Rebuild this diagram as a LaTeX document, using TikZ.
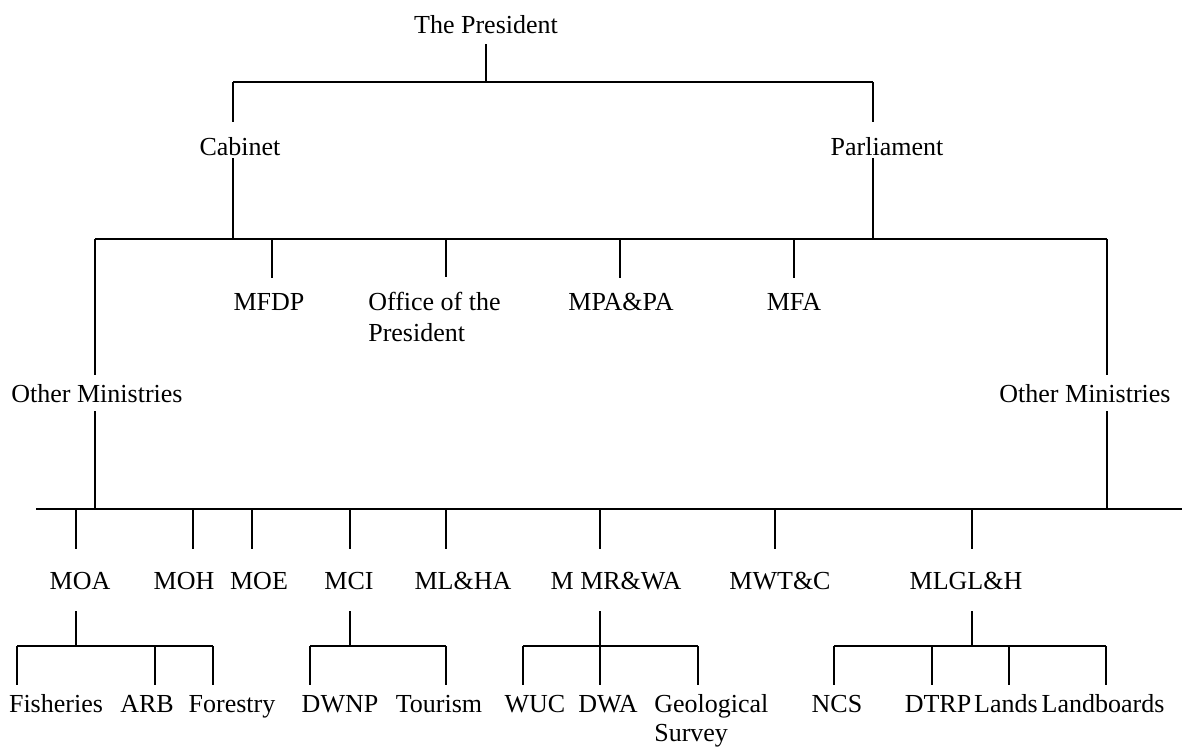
\documentclass[tikz,border=0pt]{standalone}
\usepackage{fontspec}
\setmainfont{Liberation Serif}
\begin{document}
\begin{tikzpicture}[x=0.5pt,y=-0.5pt,line width=1.3pt,
    lab/.style={font=\fontsize{13}{15.5}\selectfont,anchor=base,
      text height=9pt,text depth=0pt,inner xsep=0pt},
    twolines/.style={align=left,anchor=base west,text height=,text depth=},
    head/.style={lab,inner ysep=4.5pt},
    office/.style={lab,inner ysep=7pt},
    house/.style={lab,fill=white,text height=16pt,inner ysep=1pt,inner xsep=2pt},
    other/.style={lab,fill=white,inner ysep=4.3pt,inner xsep=2pt},
    ministry/.style={lab,inner ysep=10.5pt},
    dept/.style={lab,inner ysep=4pt}]
    \useasboundingbox (0,0) rectangle (1182,748);

    % The President
    \node[head] (pres) at (486,34) {The President};
    \coordinate (presJ) at (486,82);
    \coordinate (cabJ) at (233,82);
    \coordinate (parlJ) at (873,82);
    \draw (pres.south) -- (presJ);
    \draw (cabJ) -- (parlJ);

    % Cabinet & Parliament down to the first bar
    \coordinate (cabB) at (233,239);
    \coordinate (parlB) at (873,239);
    \coordinate (omlB) at (95,239);
    \coordinate (omrB) at (1107,239);
    \draw (cabJ) -- (cabB);
    \draw (parlJ) -- (parlB);
    \draw (omlB) -- (omrB);
    \node[house] (cab) at (240,156) {Cabinet};
    \node[house] (parl) at (887,156) {Parliament};

    % Ministries on the first bar
    \node[office] (mfdp) at (269,311) {MFDP};
    \node[office,twolines] (office) at (367,342) {Office of the\\President};
    \node[office] (mpapa) at (621,311) {MPA\&PA};
    \node[office] (mfa) at (794,311) {MFA};
    \coordinate (mfdpB) at (272,239);
    \coordinate (officeB) at (446,239);
    \coordinate (mpapaB) at (620,239);
    \coordinate (mfaB) at (794,239);
    \draw (mfdpB) -- (mfdpB |- mfdp.north);
    \draw (officeB) -- (officeB |- office.north);
    \draw (mpapaB) -- (mpapaB |- mpapa.north);
    \draw (mfaB) -- (mfaB |- mfa.north);

    % Other ministries down to the second bar
    \coordinate (omlM) at (95,509);
    \coordinate (omrM) at (1107,509);
    \coordinate (barL) at (36,509);
    \coordinate (barR) at (1182,509);
    \draw (omlB) -- (omlM);
    \draw (omrB) -- (omrM);
    \draw (barL) -- (barR);
    \node[other] (oml) at (97,402) {Other Ministries};
    \node[other] (omr) at (1085,402) {Other Ministries};

    % Ministries on the second bar
    \node[ministry] (moa) at (80,589) {MOA};
    \node[ministry] (moh) at (184,589) {MOH};
    \node[ministry] (moe) at (259,589) {MOE};
    \node[ministry] (mci) at (349,589) {MCI};
    \node[ministry] (mlha) at (463,589) {ML\&HA};
    \node[ministry] (mmrwa) at (616,589) {M MR\&WA};
    \node[ministry] (mwtc) at (780,589) {MWT\&C};
    \node[ministry] (mlglh) at (966,589) {MLGL\&H};
    \coordinate (moaB) at (76,509);
    \coordinate (mohB) at (193,509);
    \coordinate (moeB) at (252,509);
    \coordinate (mciB) at (350,509);
    \coordinate (mlhaB) at (446,509);
    \coordinate (mmrwaB) at (600,509);
    \coordinate (mwtcB) at (775,509);
    \coordinate (mlglhB) at (972,509);
    \draw (moaB) -- (moaB |- moa.north);
    \draw (mohB) -- (mohB |- moh.north);
    \draw (moeB) -- (moeB |- moe.north);
    \draw (mciB) -- (mciB |- mci.north);
    \draw (mlhaB) -- (mlhaB |- mlha.north);
    \draw (mmrwaB) -- (mmrwaB |- mmrwa.north);
    \draw (mwtcB) -- (mwtcB |- mwtc.north);
    \draw (mlglhB) -- (mlglhB |- mlglh.north);

    % Departments under MOA
    \coordinate (moaJ) at (76,646);
    \coordinate (fishJ) at (17,646);
    \coordinate (arbJ) at (155,646);
    \coordinate (forestJ) at (213,646);
    \draw (moaJ |- moa.south) -- (moaJ);
    \draw (fishJ) -- (forestJ);
    \node[dept] (fish) at (56,712) {Fisheries};
    \node[dept] (arb) at (147,712) {ARB};
    \node[dept] (forest) at (232,712) {Forestry};
    \draw (fishJ) -- (fishJ |- fish.north);
    \draw (arbJ) -- (arbJ |- arb.north);
    \draw (forestJ) -- (forestJ |- forest.north);

    % Departments under MCI
    \coordinate (mciJ) at (350,646);
    \coordinate (dwnpJ) at (310,646);
    \coordinate (tourJ) at (446,646);
    \draw (mciJ |- mci.south) -- (mciJ);
    \draw (dwnpJ) -- (tourJ);
    \node[dept] (dwnp) at (340,712) {DWNP};
    \node[dept] (tour) at (439,712) {Tourism};
    \draw (dwnpJ) -- (dwnpJ |- dwnp.north);
    \draw (tourJ) -- (tourJ |- tour.north);

    % Departments under M MR&WA
    \coordinate (mmrwaJ) at (600,646);
    \coordinate (wucJ) at (523,646);
    \coordinate (dwaJ) at (600,646);
    \coordinate (geoJ) at (698,646);
    \draw (mmrwaJ |- mmrwa.south) -- (mmrwaJ);
    \draw (wucJ) -- (geoJ);
    \node[dept] (wuc) at (535,712) {WUC};
    \node[dept] (dwa) at (608,712) {DWA};
    \node[dept,twolines,font=\fontsize{13}{14.5}\selectfont] (geo) at (653,741) {Geological\\Survey};
    \draw (wucJ) -- (wucJ |- wuc.north);
    \draw (dwaJ) -- (dwaJ |- dwa.north);
    \draw (geoJ) -- (geoJ |- geo.north);

    % Departments under MLGL&H
    \coordinate (mlglhJ) at (972,646);
    \coordinate (ncsJ) at (834,646);
    \coordinate (dtrpJ) at (932,646);
    \coordinate (landsJ) at (1009,646);
    \coordinate (landbJ) at (1106,646);
    \draw (mlglhJ |- mlglh.south) -- (mlglhJ);
    \draw (ncsJ) -- (landbJ);
    \node[dept] (ncs) at (837,712) {NCS};
    \node[dept] (dtrp) at (938,712) {DTRP};
    \node[dept] (lands) at (1006,712) {Lands};
    \node[dept] (landb) at (1103,712) {Landboards};
    \draw (ncsJ) -- (ncsJ |- ncs.north);
    \draw (dtrpJ) -- (dtrpJ |- dtrp.north);
    \draw (landsJ) -- (landsJ |- lands.north);
    \draw (landbJ) -- (landbJ |- landb.north);
\end{tikzpicture}
\end{document}
